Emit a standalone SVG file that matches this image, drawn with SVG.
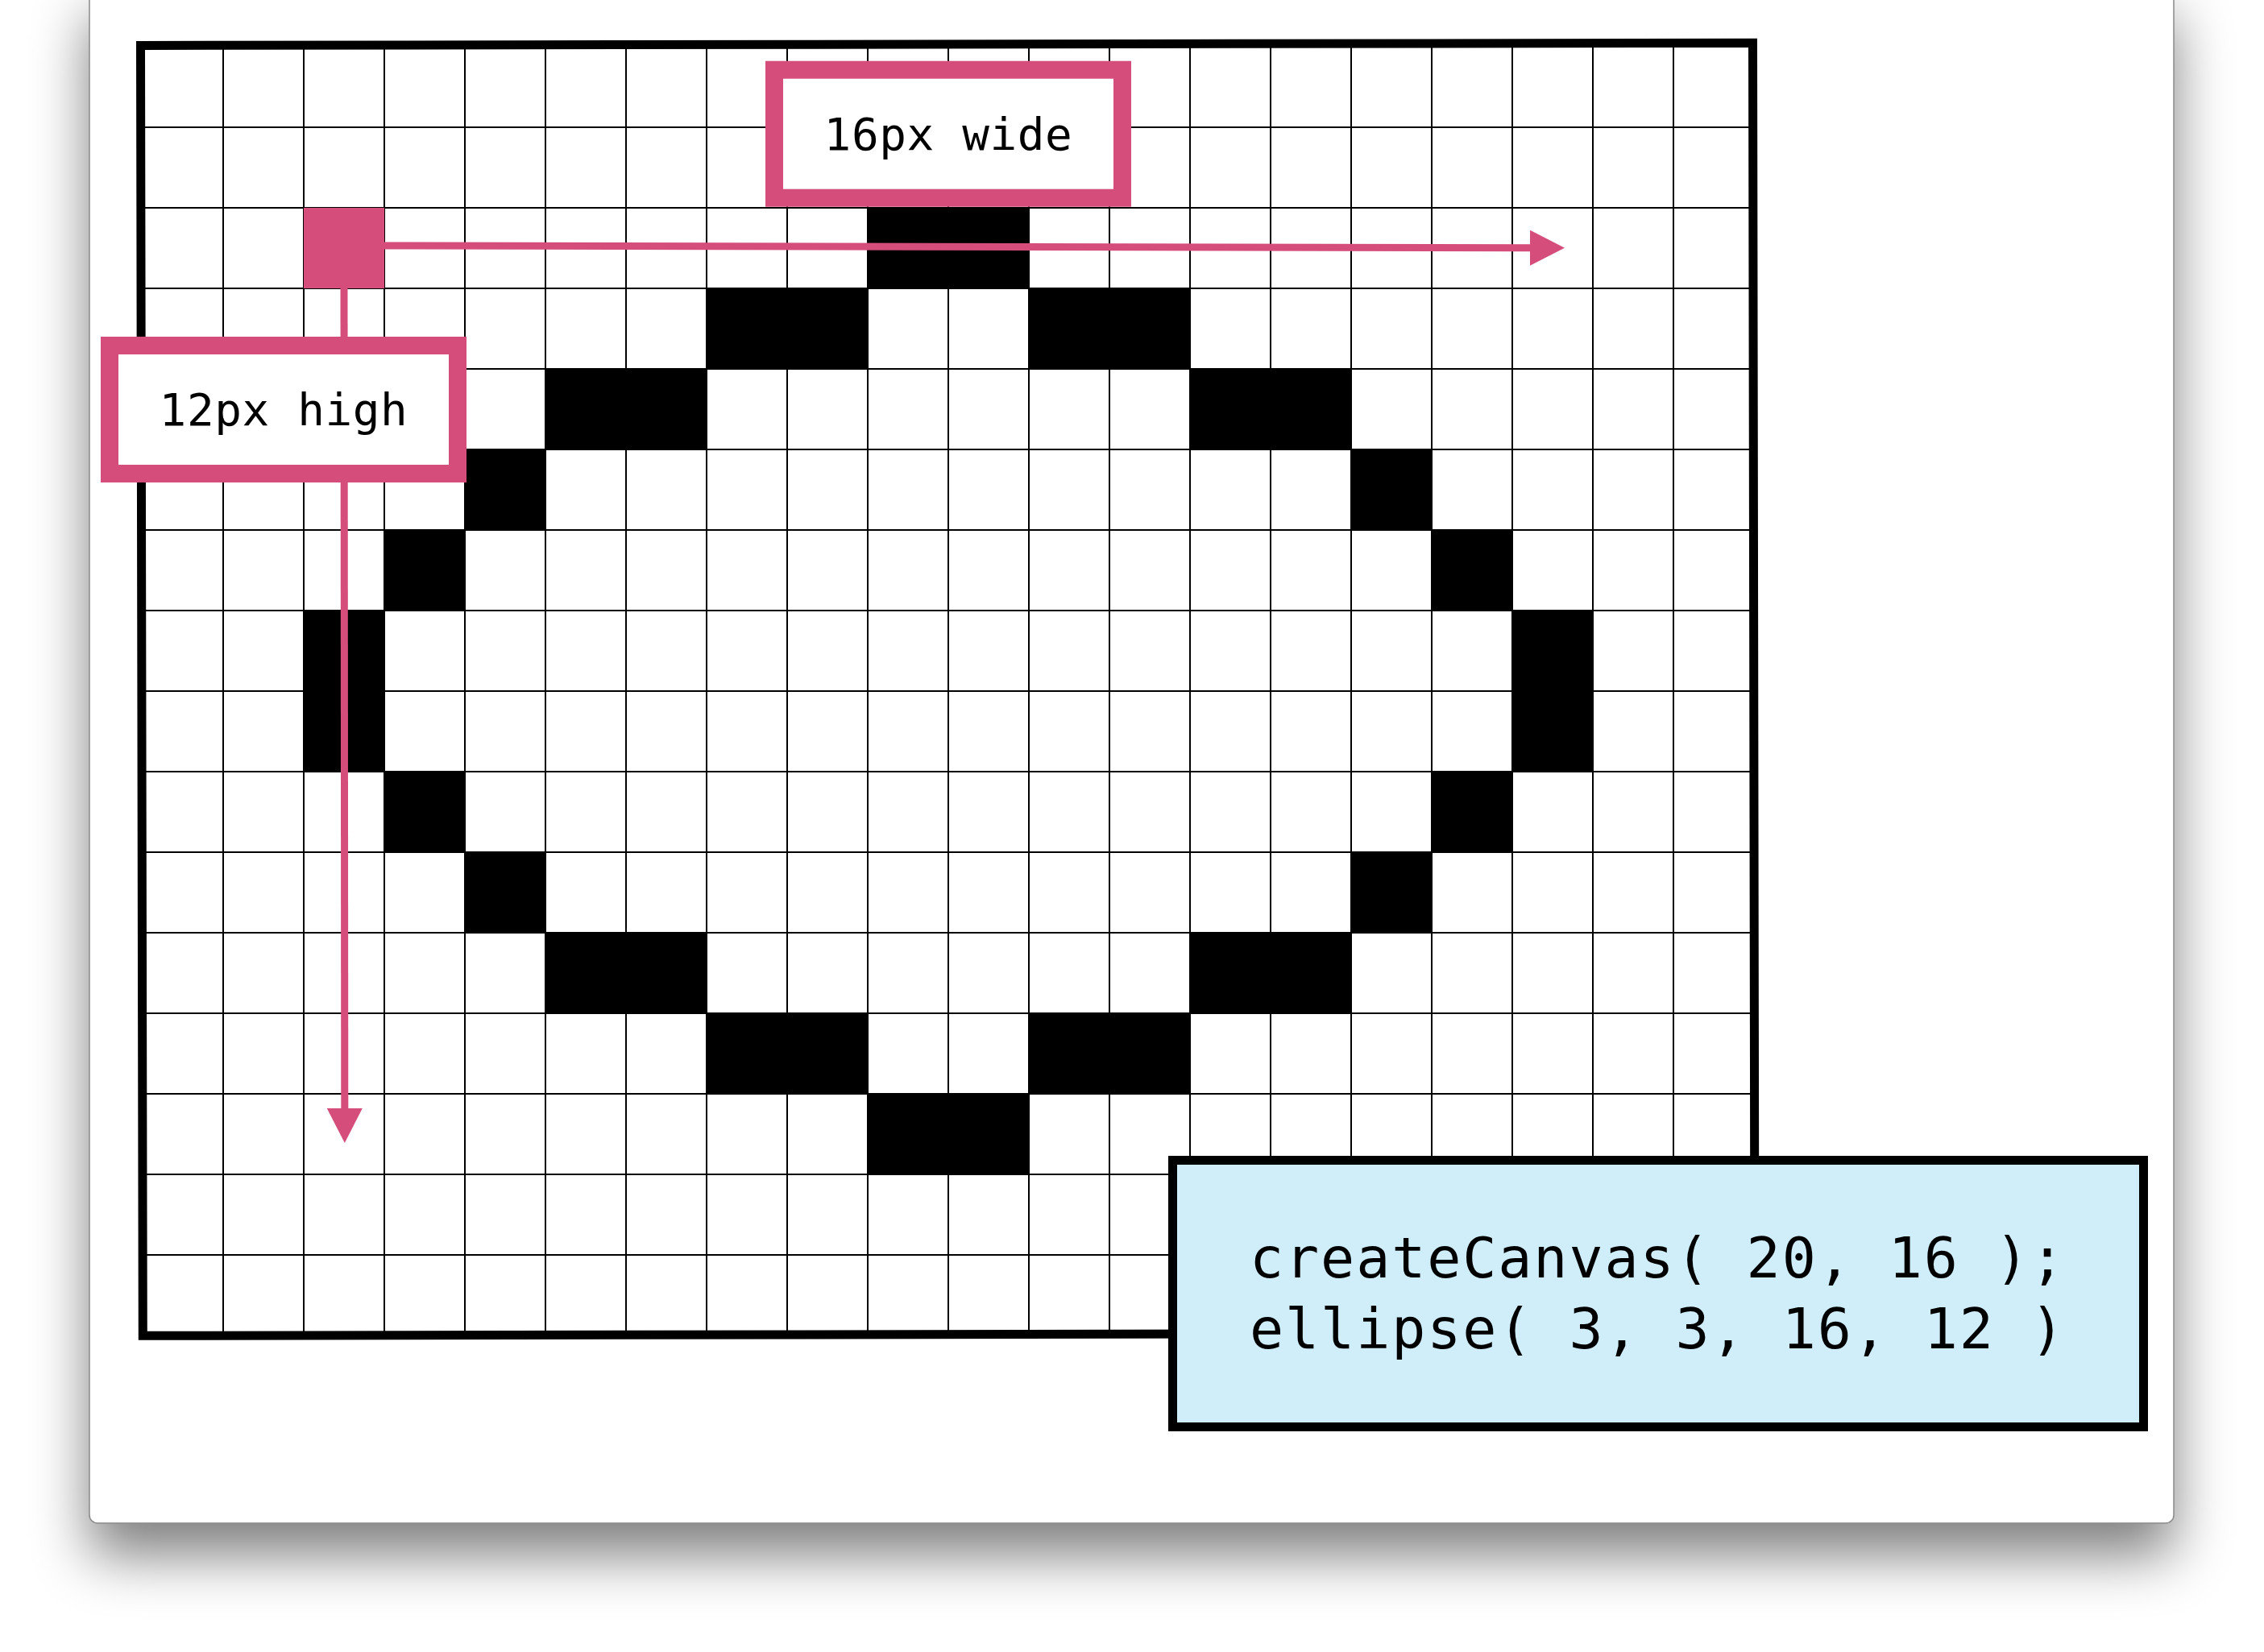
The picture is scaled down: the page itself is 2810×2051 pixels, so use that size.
<svg xmlns="http://www.w3.org/2000/svg" width="2810" height="2051" viewBox="0 0 2810 2051">
  <style>
    .grid line { stroke: #000; stroke-width: 2; }
    .px { fill: #000; }
    .pink { fill: #D54E7B; }
    .label rect { fill: #fff; stroke: #D54E7B; stroke-width: 22; }
    .mono { font-family: "DejaVu Sans Mono", "Liberation Mono", monospace; fill: #000; }
    .conn { stroke: #D54E7B; stroke-width: 9; fill: none; }
  </style>
  <defs>
    <filter id="shadow" x="-10%" y="-10%" width="120%" height="130%">
      <feGaussianBlur stdDeviation="35"/>
    </filter>
    <marker id="arrow" markerUnits="userSpaceOnUse" markerWidth="44" markerHeight="44" refX="0" refY="22" orient="auto">
      <path d="M0,0 L43,22 L0,44 Z" fill="#D54E7B"/>
    </marker>
  </defs>

  <rect width="2810" height="2051" fill="#fff"/>
  <!-- card with shadow -->
  <rect x="111" y="20" width="2587" height="1911" fill="#000" opacity="0.5" filter="url(#shadow)"/>
  <rect id="card" x="111" y="-20" width="2587" height="1911" rx="10" fill="#fff" stroke="#8a8a8a" stroke-width="1.5"/>

  <!-- grid -->
  <g id="grid" class="grid">
    <line x1="277" y1="58" x2="277" y2="1658"/>
    <line x1="377" y1="58" x2="377" y2="1658"/>
    <line x1="477" y1="58" x2="477" y2="1658"/>
    <line x1="577" y1="58" x2="577" y2="1658"/>
    <line x1="677" y1="58" x2="677" y2="1658"/>
    <line x1="777" y1="58" x2="777" y2="1658"/>
    <line x1="877" y1="58" x2="877" y2="1658"/>
    <line x1="977" y1="58" x2="977" y2="1658"/>
    <line x1="1077" y1="58" x2="1077" y2="1658"/>
    <line x1="1177" y1="58" x2="1177" y2="1658"/>
    <line x1="1277" y1="58" x2="1277" y2="1658"/>
    <line x1="1377" y1="58" x2="1377" y2="1658"/>
    <line x1="1477" y1="58" x2="1477" y2="1658"/>
    <line x1="1577" y1="58" x2="1577" y2="1658"/>
    <line x1="1677" y1="58" x2="1677" y2="1658"/>
    <line x1="1777" y1="58" x2="1777" y2="1658"/>
    <line x1="1877" y1="58" x2="1877" y2="1658"/>
    <line x1="1977" y1="58" x2="1977" y2="1658"/>
    <line x1="2077" y1="58" x2="2077" y2="1658"/>
    <line x1="177" y1="158" x2="2177" y2="158"/>
    <line x1="177" y1="258" x2="2177" y2="258"/>
    <line x1="177" y1="358" x2="2177" y2="358"/>
    <line x1="177" y1="458" x2="2177" y2="458"/>
    <line x1="177" y1="558" x2="2177" y2="558"/>
    <line x1="177" y1="658" x2="2177" y2="658"/>
    <line x1="177" y1="758" x2="2177" y2="758"/>
    <line x1="177" y1="858" x2="2177" y2="858"/>
    <line x1="177" y1="958" x2="2177" y2="958"/>
    <line x1="177" y1="1058" x2="2177" y2="1058"/>
    <line x1="177" y1="1158" x2="2177" y2="1158"/>
    <line x1="177" y1="1258" x2="2177" y2="1258"/>
    <line x1="177" y1="1358" x2="2177" y2="1358"/>
    <line x1="177" y1="1458" x2="2177" y2="1458"/>
    <line x1="177" y1="1558" x2="2177" y2="1558"/>
  </g>

  <!-- rasterised ellipse pixels -->
  <g id="ellipse-pixels" class="px">
    <rect x="1077" y="258" width="200" height="100"/>
    <rect x="877" y="358" width="200" height="100"/>
    <rect x="1277" y="358" width="200" height="100"/>
    <rect x="677" y="458" width="200" height="100"/>
    <rect x="1477" y="458" width="200" height="100"/>
    <rect x="577" y="558" width="100" height="100"/>
    <rect x="1677" y="558" width="100" height="100"/>
    <rect x="477" y="658" width="100" height="100"/>
    <rect x="1777" y="658" width="100" height="100"/>
    <rect x="377" y="758" width="100" height="200"/>
    <rect x="1877" y="758" width="100" height="200"/>
    <rect x="477" y="958" width="100" height="100"/>
    <rect x="1777" y="958" width="100" height="100"/>
    <rect x="577" y="1058" width="100" height="100"/>
    <rect x="1677" y="1058" width="100" height="100"/>
    <rect x="677" y="1158" width="200" height="100"/>
    <rect x="1477" y="1158" width="200" height="100"/>
    <rect x="877" y="1258" width="200" height="100"/>
    <rect x="1277" y="1258" width="200" height="100"/>
    <rect x="1077" y="1358" width="200" height="100"/>
  </g>

  <!-- canvas border -->
  <path id="canvas-border" d="M174.5,56.5 L2175.5,53.3 L2178,1655 L177.3,1658.3 Z" fill="none" stroke="#000" stroke-width="11" stroke-linejoin="miter"/>

  <!-- connectors -->
  <g id="connectors">
    <path class="conn" d="M477,305 L1899,307.7" marker-end="url(#arrow)"/>
    <path class="conn" d="M427,358 L427.8,1376" marker-end="url(#arrow)"/>
  </g>

  <!-- origin pixel -->
  <g id="origin">
    <rect class="pink" x="377" y="258" width="100" height="100"/>
  </g>

  <g id="label-wide" class="label">
    <rect x="961" y="86.7" width="432" height="159"/>
    <text class="mono" x="1177" y="186" font-size="56" letter-spacing="0.6" text-anchor="middle">16px wide</text>
  </g>

  <g id="label-high" class="label">
    <rect x="136" y="429" width="432" height="159"/>
    <text class="mono" x="352" y="528" font-size="56" letter-spacing="0.6" text-anchor="middle">12px high</text>
  </g>

  <g id="code">
    <rect x="1455.5" y="1440.5" width="1205" height="331" fill="#D0EEFA" stroke="#000" stroke-width="11"/>
    <text class="mono" x="1551" y="1586" font-size="70" letter-spacing="1.9" xml:space="preserve">createCanvas( 20, 16 );</text>
    <text class="mono" x="1551" y="1674" font-size="70" letter-spacing="1.9" xml:space="preserve">ellipse( 3, 3, 16, 12 )</text>
  </g>
</svg>
